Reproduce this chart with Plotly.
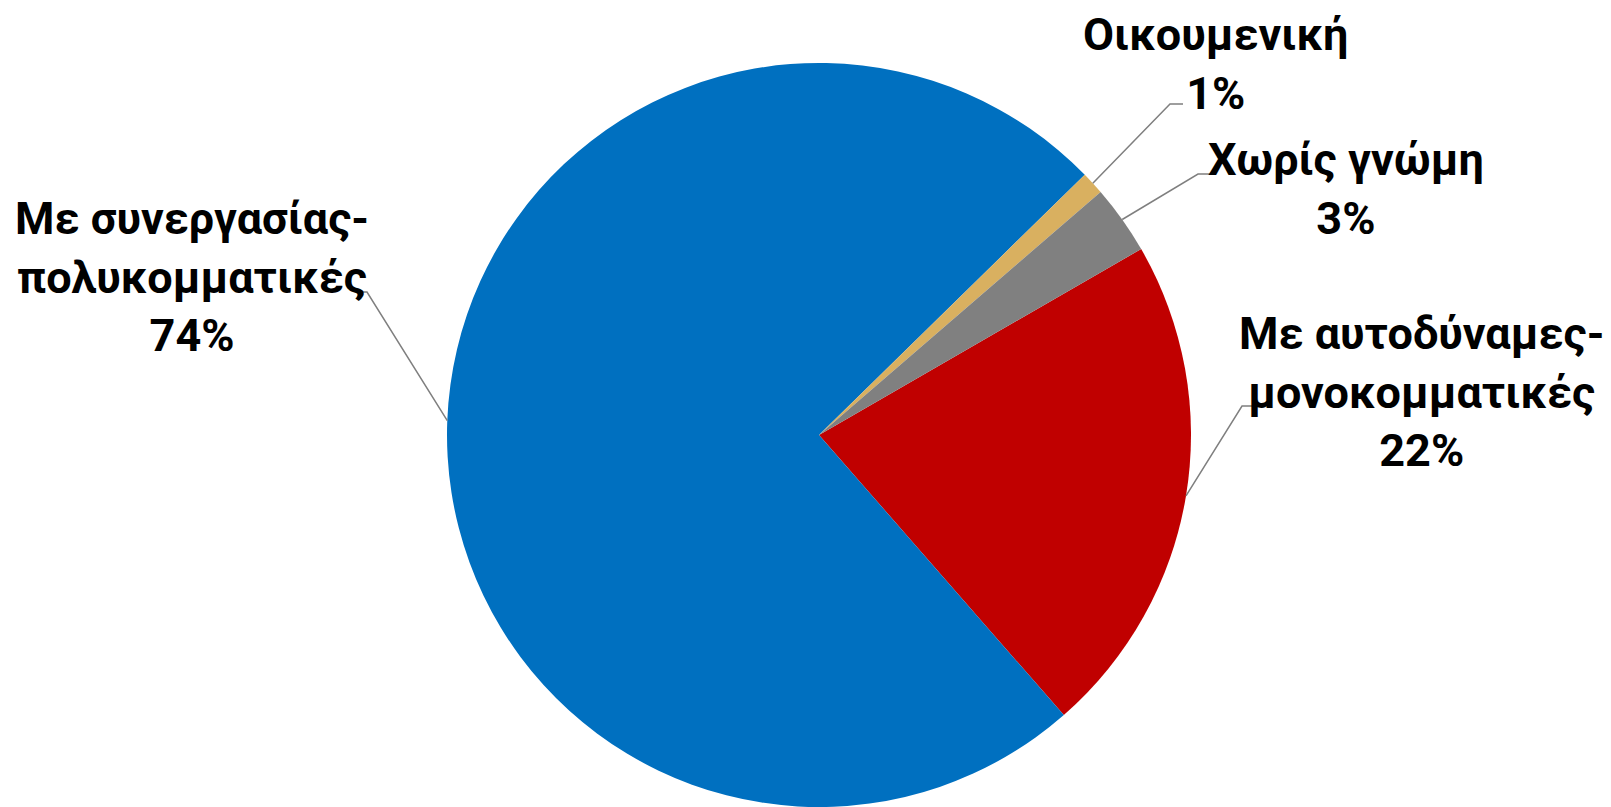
import math
import plotly.graph_objects as go

W, H = 1611, 807
OFF = 8  # page body margin offset

labels = ["Με αυτοδύναμες-μονοκομματικές", "Με συνεργασίας-πολυκομματικές", "Οικουμενική", "Χωρίς γνώμη"]
label_lines = [["Με αυτοδύναμες-", "μονοκομματικές"], ["Με συνεργασίας-", "πολυκομματικές"], ["Οικουμενική"], ["Χωρίς γνώμη"]]
values = [21.9, 74.1, 1.0, 3.0]
pct_text = ["22%", "74%", "1%", "3%"]
colors = ["#C00000", "#0070C0", "#D9B060", "#808080"]

# layout (window pixel positions of pie and labels)
CX, CY, R = 819, 435, 372
ROTATION = 60
label_pos = [(1421, 392), (192, 277), (1215, 64), (1346, 189)]
elbows = [(1242, 406), (367, 292), (1170, 104), (1198, 174)]
ends = [(1252, 406), (357, 292), (1183, 104), (1213, 174)]


def px(x):
    return (x - OFF) / W


def py(y):
    return 1 - (y - OFF) / H


fig = go.Figure()
fig.add_trace(go.Pie(
    labels=labels,
    values=values,
    sort=False,
    direction="clockwise",
    rotation=ROTATION,
    marker=dict(colors=colors, line=dict(width=0)),
    textinfo="none",
    hoverinfo="label+percent",
    showlegend=False,
    domain=dict(x=[px(CX - R), px(CX + R)], y=[py(CY + R), py(CY - R)]),
))

shapes = []
annotations = []
total = sum(values)
cum = 0.0
start = 90 - ROTATION
for i, v in enumerate(values):
    span = 360 * v / total
    mid = math.radians(start - cum - span / 2)
    cum += span
    ex = CX + R * math.cos(mid)
    ey = CY - R * math.sin(mid)
    (bx, by), (tx, ty) = elbows[i], ends[i]
    shapes.append(dict(
        type="path", xref="paper", yref="paper",
        path=f"M {px(ex)},{py(ey)} L {px(bx)},{py(by)} L {px(tx)},{py(ty)}",
        line=dict(color="#7F7F7F", width=1.5),
    ))
    text = "<br>".join(label_lines[i] + [pct_text[i]])
    lx, ly = label_pos[i]
    annotations.append(dict(
        x=px(lx), y=py(ly), xref="paper", yref="paper",
        xanchor="center", yanchor="middle", align="center",
        text=f"<b>{text}</b>", showarrow=False, borderpad=0,
        font=dict(family="Roboto", size=45, color="#000000"),
    ))

fig.update_layout(
    width=W, height=H,
    margin=dict(l=0, r=0, t=0, b=0),
    paper_bgcolor="white", plot_bgcolor="white",
    shapes=shapes, annotations=annotations,
)

fig.write_html("out.html")
